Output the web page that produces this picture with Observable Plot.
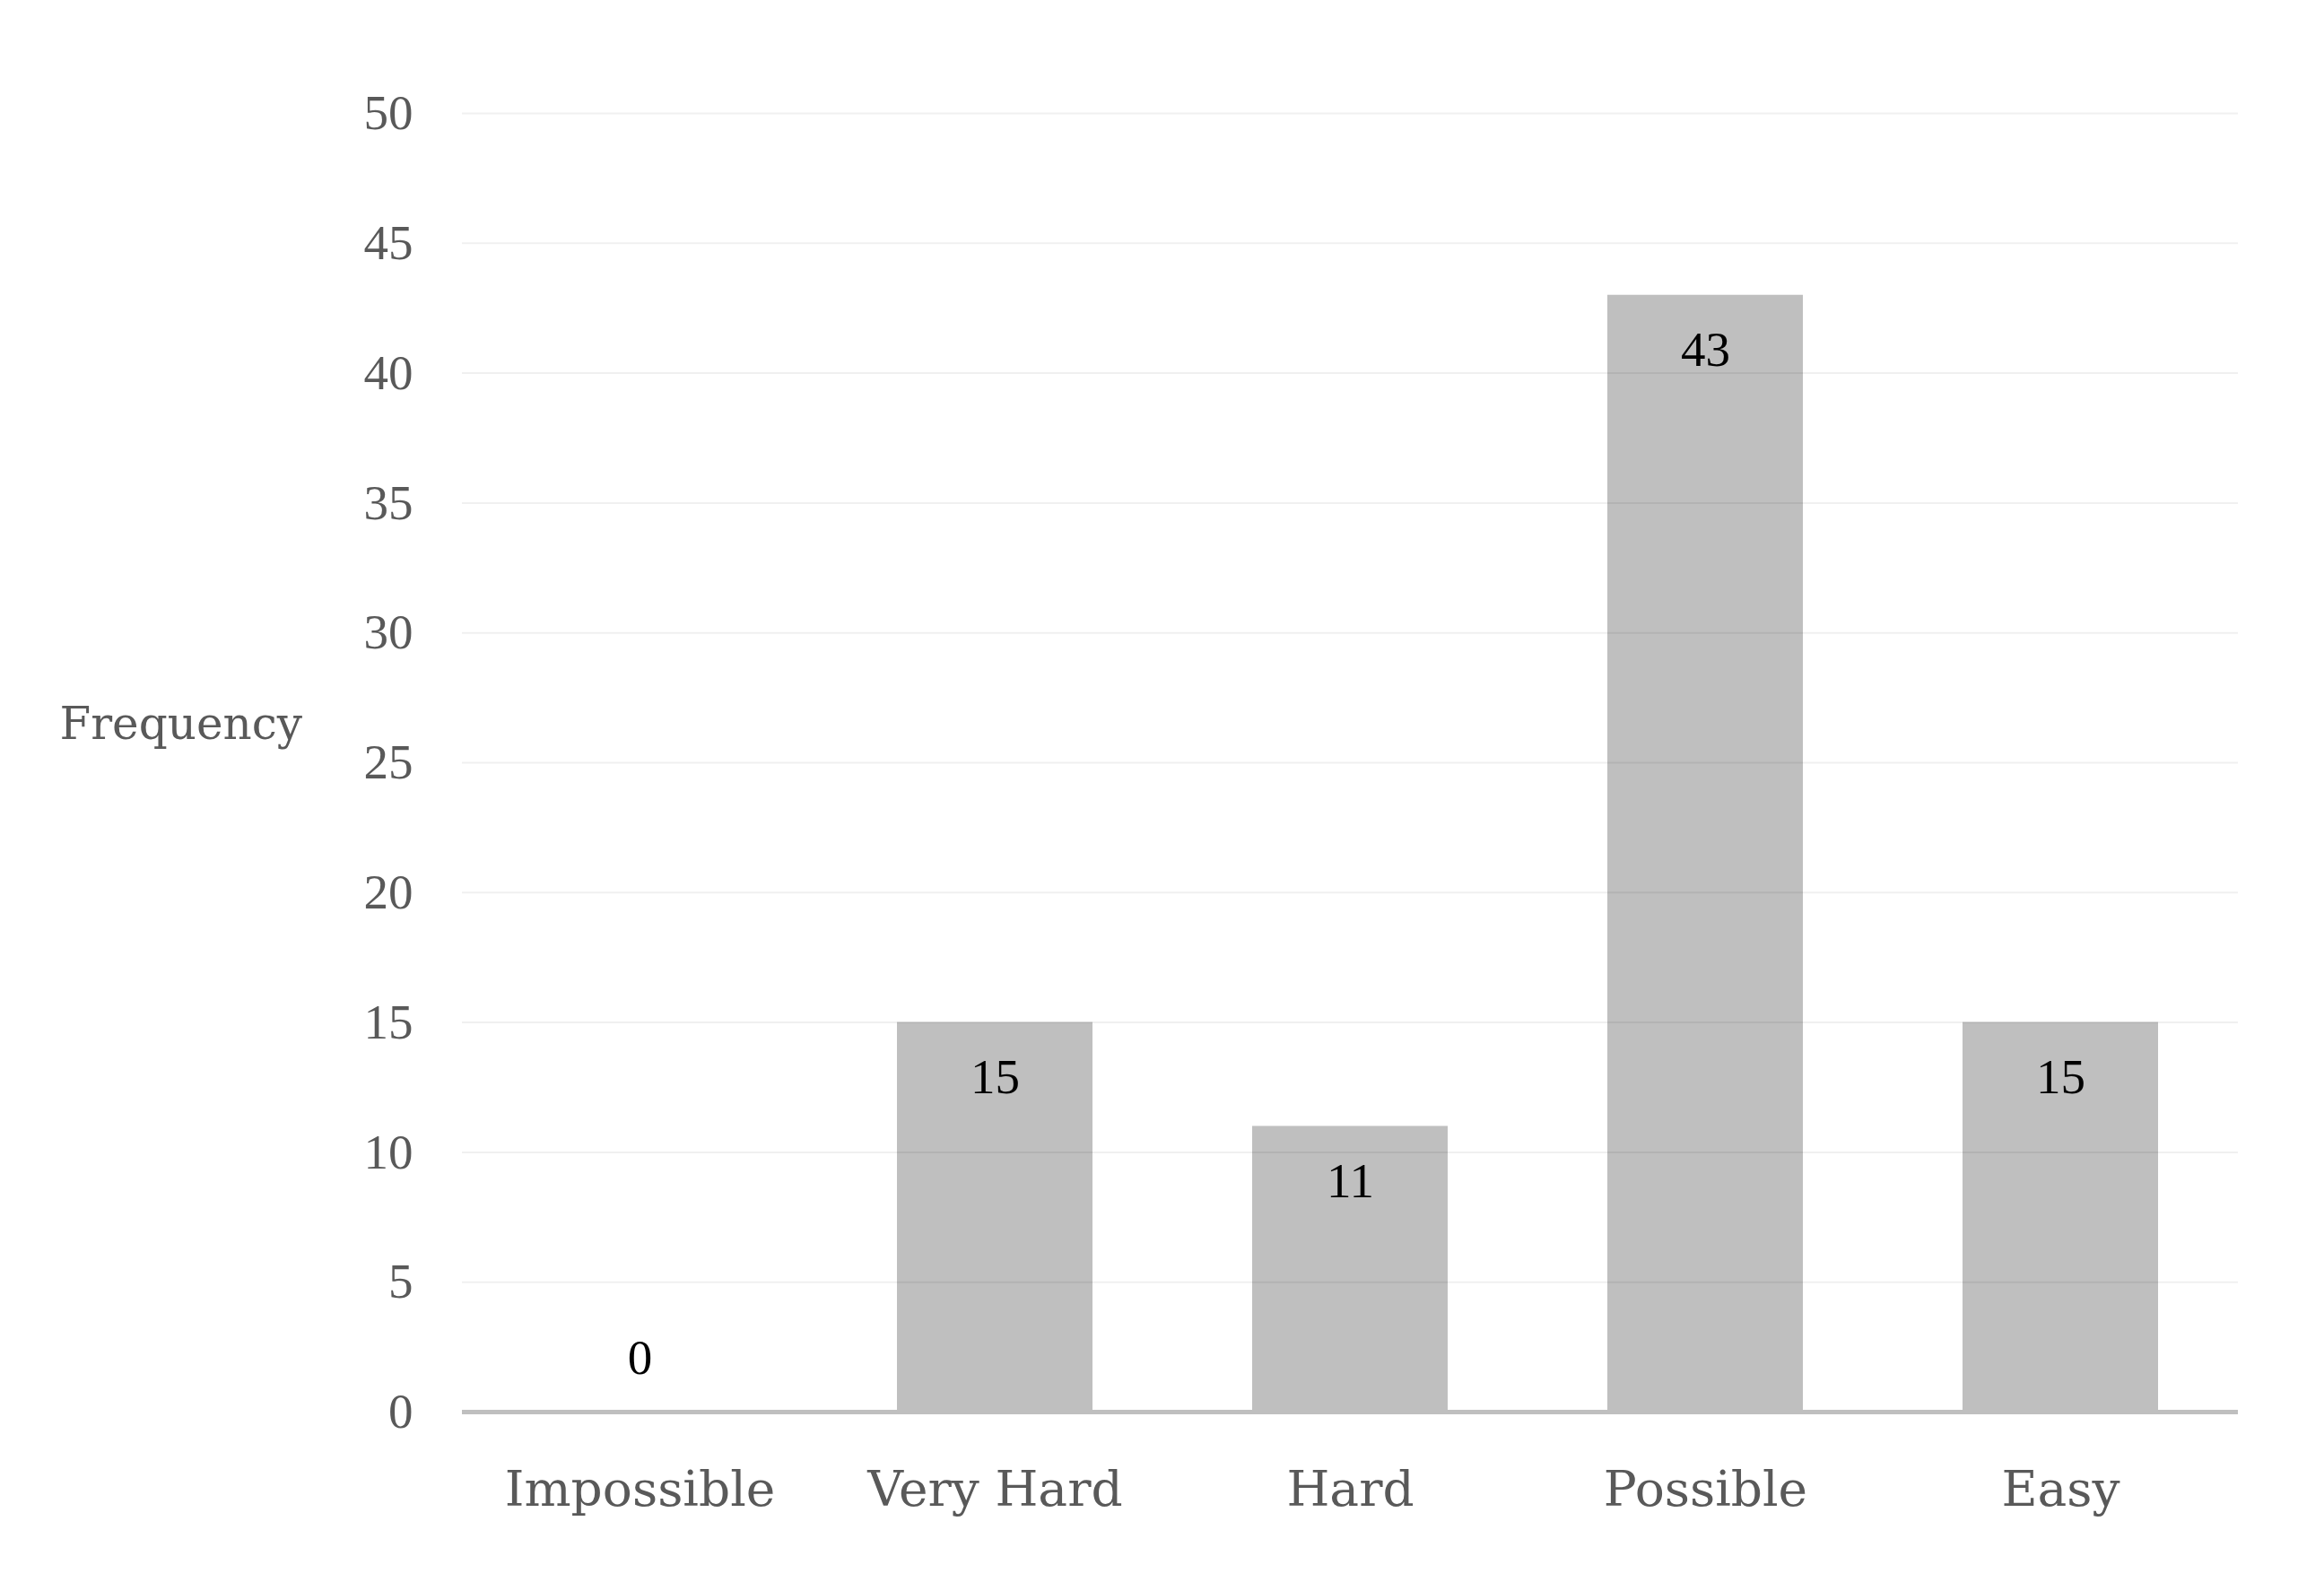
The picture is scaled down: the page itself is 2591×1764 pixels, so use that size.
<!DOCTYPE html>
<html><head><meta charset="utf-8">
<script src="https://cdn.jsdelivr.net/npm/d3@7"></script>
<script src="https://cdn.jsdelivr.net/npm/@observablehq/plot@0.6"></script>
<style>html,body{margin:0;padding:0;background:#fff}</style>
</head><body><div id="chart"></div>
<script>
const categories = ["Impossible", "Very Hard", "Hard", "Possible", "Easy"];
const frequencies = [0, 15, 11, 43, 15];
const yTicks = [0, 5, 10, 15, 20, 25, 30, 35, 40, 45, 50];
const yLabel = "Frequency";

const data = categories.map((c, i) => ({category: c, value: frequencies[i]}));
const numFont = "'Liberation Serif', serif";

const chart = Plot.plot({
  width: 2591, height: 1764,
  marginLeft: 515, marginRight: 96, marginTop: 126, marginBottom: 190,
  style: {background: "#fff", fontFamily: "'DejaVu Serif', serif"},
  x: {domain: categories, paddingInner: 0.45, paddingOuter: 0.225, label: null},
  y: {domain: [0, 50], label: null},
  marks: [
    Plot.barY(data, {x: "category", y: "value", fill: "#bfbfbf"}),
    Plot.ruleY(yTicks.filter(t => t > 0), {stroke: "#000", strokeOpacity: 0.06, strokeWidth: 2}),
    Plot.ruleY([0], {stroke: "#bfbfbf", strokeWidth: 5}),
    Plot.axisY({ticks: yTicks, tickSize: 0, tickPadding: 55, fontSize: 55, fontFamily: numFont, color: "#595959", label: null}),
    Plot.axisX({tickSize: 0, tickPadding: 65, fontSize: 55, color: "#595959", label: null}),
    Plot.text(data.filter(d => d.value > 0), {x: "category", y: "value", text: d => String(d.value), dy: 61, fontSize: 55, fontFamily: numFont, fill: "#000"}),
    Plot.text(data.filter(d => d.value === 0), {x: "category", y: "value", text: d => String(d.value), dy: -60, fontSize: 55, fontFamily: numFont, fill: "#000"}),
    Plot.text([yLabel], {text: d => d, frameAnchor: "left", dx: -449, dy: -43, textAnchor: "start", fontSize: 50, fill: "#595959"})
  ]
});
document.getElementById("chart").appendChild(chart);
</script>
</body></html>
